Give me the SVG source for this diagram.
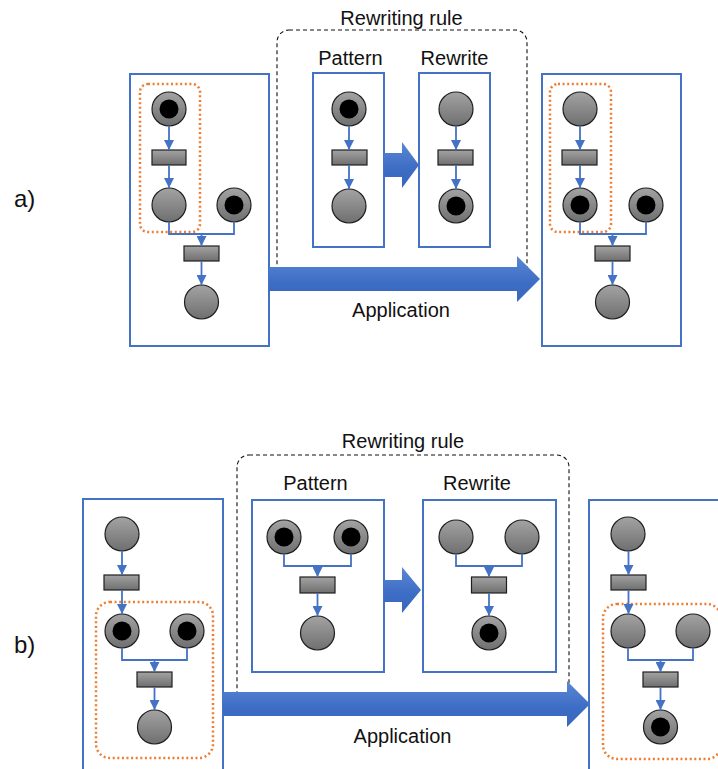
<svg xmlns="http://www.w3.org/2000/svg" width="718" height="769" viewBox="0 0 718 769">
  <defs>
    <linearGradient id="greyFill" x1="0" y1="0" x2="0" y2="1">
      <stop offset="0" stop-color="#a3a3a3"/>
      <stop offset="1" stop-color="#6f6f6f"/>
    </linearGradient>
    <linearGradient id="blueFill" x1="0" y1="0" x2="0" y2="1">
      <stop offset="0" stop-color="#5b88d4"/>
      <stop offset="0.6" stop-color="#3c6cc4"/>
      <stop offset="1" stop-color="#3a67bb"/>
    </linearGradient>
    <marker id="tip" viewBox="0 0 10 10" refX="10" refY="5" markerWidth="10" markerHeight="10" markerUnits="userSpaceOnUse" orient="auto">
      <path d="M0,0 L10,5 L0,10 z" fill="#4472c4"/>
    </marker>
    <style>
      .frame { fill: #ffffff; stroke: #4472c4; stroke-width: 2; }
      .rule { fill: none; stroke: #111111; stroke-width: 1.1; stroke-dasharray: 4 3; }
      .focus { fill: none; stroke: #ed7d31; stroke-width: 2.5; stroke-dasharray: 2 2.6; }
      .place { fill: url(#greyFill); stroke: #1e1e1e; stroke-width: 1.2; }
      .token { fill: #000000; }
      .trans { fill: url(#greyFill); stroke: #1e1e1e; stroke-width: 1.2; }
      .arc { fill: none; stroke: #4472c4; stroke-width: 1.8; }
      .arrow { stroke: #4472c4; stroke-width: 1.8; marker-end: url(#tip); }
      .block { fill: url(#blueFill); }
      .label { font-family: "Liberation Sans", Arial, sans-serif; font-size: 20px; fill: #111111; }
      .tag { font-family: "Liberation Sans", Arial, sans-serif; font-size: 24px; fill: #111111; }
    </style>
  </defs>

  <!-- ===== Part a ===== -->
  <text class="tag" x="14" y="207">a)</text>

  <!-- rewriting rule frame -->
  <rect class="rule" x="277" y="30" width="250" height="252" rx="12"/>
  <text class="label" x="401.5" y="25" text-anchor="middle">Rewriting rule</text>
  <text class="label" x="350.5" y="65" text-anchor="middle">Pattern</text>
  <text class="label" x="454.5" y="65" text-anchor="middle">Rewrite</text>

  <!-- source net -->
  <g id="a-source">
    <rect class="frame" x="130" y="74" width="139" height="272"/>
    <rect class="focus" x="140" y="84" width="60" height="148" rx="8"/>
    <g id="a-s-p1"><circle class="place" cx="169" cy="109" r="17"/><circle class="token" cx="169" cy="109" r="9.5"/></g>
    <g id="a-s-t1"><rect class="trans" x="152" y="150" width="34" height="15"/></g>
    <g id="a-s-p2"><circle class="place" cx="169" cy="205" r="17"/></g>
    <g id="a-s-p3"><circle class="place" cx="234" cy="205" r="17"/><circle class="token" cx="234" cy="205" r="9.5"/></g>
    <g id="a-s-t2"><rect class="trans" x="184" y="246" width="35" height="15"/></g>
    <g id="a-s-p4"><circle class="place" cx="201.5" cy="302" r="17"/></g>
  </g>

  <!-- pattern net -->
  <g id="a-pattern">
    <rect class="frame" x="313" y="73" width="71" height="174"/>
    <g id="a-pt-p1"><circle class="place" cx="349" cy="109" r="17"/><circle class="token" cx="349" cy="109" r="9.5"/></g>
    <g id="a-pt-t1"><rect class="trans" x="332" y="150" width="35" height="15"/></g>
    <g id="a-pt-p2"><circle class="place" cx="349" cy="206" r="17"/></g>
  </g>

  <!-- rewrite net -->
  <g id="a-rewrite">
    <rect class="frame" x="419" y="73" width="71" height="174"/>
    <g id="a-rw-p1"><circle class="place" cx="456" cy="109" r="17"/></g>
    <g id="a-rw-t1"><rect class="trans" x="438" y="150" width="35" height="15"/></g>
    <g id="a-rw-p2"><circle class="place" cx="456" cy="206" r="17"/><circle class="token" cx="456" cy="206" r="9.5"/></g>
  </g>

  <!-- result net -->
  <g id="a-result">
    <rect class="frame" x="542" y="74" width="139" height="272"/>
    <rect class="focus" x="550" y="84" width="61" height="148" rx="8"/>
    <g id="a-r-p1"><circle class="place" cx="580" cy="109" r="17"/></g>
    <g id="a-r-t1"><rect class="trans" x="562" y="150" width="35" height="15"/></g>
    <g id="a-r-p2"><circle class="place" cx="580" cy="205" r="17"/><circle class="token" cx="580" cy="205" r="9.5"/></g>
    <g id="a-r-p3"><circle class="place" cx="646" cy="205" r="17"/><circle class="token" cx="646" cy="205" r="9.5"/></g>
    <g id="a-r-t2"><rect class="trans" x="595" y="246" width="35" height="15"/></g>
    <g id="a-r-p4"><circle class="place" cx="612.5" cy="302" r="17"/></g>
  </g>

  <!-- ===== Part b ===== -->
  <text class="tag" x="14" y="653">b)</text>

  <rect class="rule" x="237" y="455" width="332" height="250" rx="12"/>
  <text class="label" x="403" y="448" text-anchor="middle">Rewriting rule</text>
  <text class="label" x="315.5" y="490" text-anchor="middle">Pattern</text>
  <text class="label" x="477" y="490" text-anchor="middle">Rewrite</text>

  <g id="b-source">
    <rect class="frame" x="83" y="499" width="140" height="290"/>
    <rect class="focus" x="96" y="602" width="117" height="156" rx="14"/>
    <g id="b-s-p1"><circle class="place" cx="122" cy="534" r="17"/></g>
    <g id="b-s-t1"><rect class="trans" x="104" y="575" width="35" height="15"/></g>
    <g id="b-s-p2"><circle class="place" cx="122" cy="631" r="17"/><circle class="token" cx="122" cy="631" r="9.5"/></g>
    <g id="b-s-p3"><circle class="place" cx="187" cy="631" r="17"/><circle class="token" cx="187" cy="631" r="9.5"/></g>
    <g id="b-s-t2"><rect class="trans" x="137" y="672" width="35" height="15"/></g>
    <g id="b-s-p4"><circle class="place" cx="154.5" cy="727" r="17"/></g>
  </g>

  <g id="b-pattern">
    <rect class="frame" x="252" y="500" width="132" height="172"/>
    <g id="b-pt-p1"><circle class="place" cx="284" cy="537" r="17"/><circle class="token" cx="284" cy="537" r="9.5"/></g>
    <g id="b-pt-p2"><circle class="place" cx="351" cy="537" r="17"/><circle class="token" cx="351" cy="537" r="9.5"/></g>
    <g id="b-pt-t1"><rect class="trans" x="300" y="577" width="35" height="16"/></g>
    <g id="b-pt-p3"><circle class="place" cx="317.5" cy="633" r="17"/></g>
  </g>

  <g id="b-rewrite">
    <rect class="frame" x="423" y="500" width="133" height="172"/>
    <g id="b-rw-p1"><circle class="place" cx="456" cy="537" r="17"/></g>
    <g id="b-rw-p2"><circle class="place" cx="522" cy="537" r="17"/></g>
    <g id="b-rw-t1"><rect class="trans" x="471.5" y="577" width="35" height="16"/></g>
    <g id="b-rw-p3"><circle class="place" cx="489" cy="633" r="17"/><circle class="token" cx="489" cy="633" r="9.5"/></g>
  </g>

  <g id="b-result">
    <rect class="frame" x="589" y="500" width="140" height="290"/>
    <rect class="focus" x="603" y="604" width="118" height="155" rx="14"/>
    <g id="b-r-p1"><circle class="place" cx="628" cy="534" r="17"/></g>
    <g id="b-r-t1"><rect class="trans" x="611" y="575" width="35" height="15"/></g>
    <g id="b-r-p2"><circle class="place" cx="628" cy="631" r="17"/></g>
    <g id="b-r-p3"><circle class="place" cx="693" cy="631" r="17"/></g>
    <g id="b-r-t2"><rect class="trans" x="643" y="672" width="35" height="15"/></g>
    <g id="b-r-p4"><circle class="place" cx="660.5" cy="727" r="17"/><circle class="token" cx="660.5" cy="727" r="9.5"/></g>
  </g>

  <!-- ===== Connectors ===== -->
  <g id="connectors">
    <!-- a: source net -->
    <line class="arrow" x1="169" y1="126" x2="169" y2="150"/>
    <line class="arrow" x1="169" y1="165" x2="169" y2="188"/>
    <path class="arc" d="M169,222 V234 H234 V222"/>
    <line class="arrow" x1="201.5" y1="234" x2="201.5" y2="246"/>
    <line class="arrow" x1="201.5" y1="261" x2="201.5" y2="285"/>
    <!-- a: pattern -->
    <line class="arrow" x1="349" y1="126" x2="349" y2="150"/>
    <line class="arrow" x1="349" y1="165" x2="349" y2="189"/>
    <!-- a: rewrite -->
    <line class="arrow" x1="456" y1="126" x2="456" y2="150"/>
    <line class="arrow" x1="456" y1="165" x2="456" y2="189"/>
    <!-- a: result net -->
    <line class="arrow" x1="580" y1="126" x2="580" y2="150"/>
    <line class="arrow" x1="580" y1="165" x2="580" y2="188"/>
    <path class="arc" d="M580,222 V234 H646 V222"/>
    <line class="arrow" x1="612.5" y1="234" x2="612.5" y2="246"/>
    <line class="arrow" x1="612.5" y1="261" x2="612.5" y2="285"/>

    <!-- b: source net -->
    <line class="arrow" x1="122" y1="551" x2="122" y2="575"/>
    <line class="arrow" x1="122" y1="590" x2="122" y2="614"/>
    <path class="arc" d="M122,648 V660 H187 V648"/>
    <line class="arrow" x1="154.5" y1="660" x2="154.5" y2="672"/>
    <line class="arrow" x1="154.5" y1="687" x2="154.5" y2="710"/>
    <!-- b: pattern -->
    <path class="arc" d="M284,554 V566 H351 V554"/>
    <line class="arrow" x1="317.5" y1="566" x2="317.5" y2="577"/>
    <line class="arrow" x1="317.5" y1="593" x2="317.5" y2="616"/>
    <!-- b: rewrite -->
    <path class="arc" d="M456,554 V566 H522 V554"/>
    <line class="arrow" x1="489" y1="566" x2="489" y2="577"/>
    <line class="arrow" x1="489" y1="593" x2="489" y2="616"/>
    <!-- b: result net -->
    <line class="arrow" x1="628.5" y1="551" x2="628.5" y2="575"/>
    <line class="arrow" x1="628.5" y1="590" x2="628.5" y2="614"/>
    <path class="arc" d="M628,648 V660 H693 V648"/>
    <line class="arrow" x1="660.5" y1="660" x2="660.5" y2="672"/>
    <line class="arrow" x1="660.5" y1="687" x2="660.5" y2="710"/>

    <!-- block arrows: pattern to rewrite, and application -->
    <polygon class="block" points="384,153 402,153 402,142 419,165 402,188 402,177 384,177"/>
    <polygon class="block" points="269,267 517,267 517,256 540,279 517,302 517,291 269,291"/>
    <polygon class="block" points="384,580 402,580 402,567 421,590 402,613 402,602 384,602"/>
    <polygon class="block" points="223,692 567,692 567,681 590,704 567,727 567,716 223,716"/>
  </g>

  <text class="label" x="401" y="317" text-anchor="middle">Application</text>
  <text class="label" x="402.5" y="743" text-anchor="middle">Application</text>
</svg>
